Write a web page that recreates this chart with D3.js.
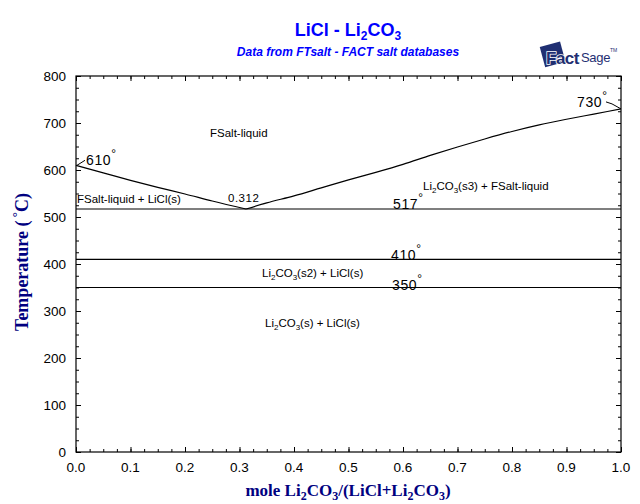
<!DOCTYPE html>
<html>
<head>
<meta charset="utf-8">
<script src="https://cdn.jsdelivr.net/npm/d3@7/dist/d3.min.js"></script>
<style>
  html, body { margin: 0; padding: 0; background: #fff; }
  svg { display: block; font-family: "Liberation Sans", Arial, sans-serif; }
</style>
</head>
<body>
<svg id="chart" width="640" height="504"></svg>
<script>
// ---- data ----
const leftBranchX = [0, 0.05, 0.1, 0.15, 0.2, 0.25, 0.312];
const leftBranchT = [610, 594, 578, 563, 549, 534, 517];
const rightBranchX = [0.312, 0.35, 0.4, 0.45, 0.5, 0.55, 0.6, 0.65, 0.7, 0.75, 0.8, 0.85, 0.9, 0.95, 1.0];
const rightBranchT = [517, 530, 545, 562, 579, 595, 612, 631, 649, 666, 682, 696, 708, 719, 730];
const isothermT = [517, 410, 350];
const xTicks = [0, 0.1, 0.2, 0.3, 0.4, 0.5, 0.6, 0.7, 0.8, 0.9, 1.0];
const yTicks = [0, 100, 200, 300, 400, 500, 600, 700, 800];
const eutecticX = 0.312;

const svg = d3.select("#chart");
const L = 76, R = 621, T = 76, B = 452;
const x = d3.scaleLinear().domain([0, 1]).range([L, R]);
const y = d3.scaleLinear().domain([0, 800]).range([B, T]);

const minorX = d3.range(0, 1.0001, 0.025).map(v => +v.toFixed(3));
const minorY = d3.range(0, 800.1, 25);
const serif = "'Liberation Serif', 'Times New Roman', serif";

// frame
svg.append("rect").attr("x", L).attr("y", T).attr("width", R - L).attr("height", B - T)
  .attr("fill", "none").attr("stroke", "#000").attr("stroke-width", 1.2);

function tickGroup(axisFn, scale, vals, size, tx, ty) {
  const g = svg.append("g").attr("transform", `translate(${tx},${ty})`)
    .call(axisFn(scale).tickValues(vals).tickSizeInner(size).tickSizeOuter(0).tickFormat(""));
  g.select(".domain").remove();
  g.selectAll("line").attr("stroke", "#000");
  return g;
}
// inward ticks on all four sides
tickGroup(d3.axisBottom, x, minorX, -3, 0, B);
tickGroup(d3.axisBottom, x, xTicks, -5, 0, B);
tickGroup(d3.axisTop, x, minorX, -3, 0, T);
tickGroup(d3.axisTop, x, xTicks, -5, 0, T);
tickGroup(d3.axisLeft, y, minorY, -3, L, 0);
tickGroup(d3.axisLeft, y, yTicks, -5, L, 0);
tickGroup(d3.axisRight, y, minorY, -3, R, 0);
tickGroup(d3.axisRight, y, yTicks, -5, R, 0);

// tick labels
svg.append("g").selectAll("text").data(xTicks).join("text")
  .attr("x", d => x(d)).attr("y", 472).attr("text-anchor", "middle")
  .attr("font-size", 13.5).attr("fill", "#000").text(d => d.toFixed(1));
svg.append("g").selectAll("text").data(yTicks).join("text")
  .attr("x", 66).attr("y", d => y(d) + 5).attr("text-anchor", "end")
  .attr("font-size", 13.5).attr("fill", "#000").text(d => d);

// isotherms
svg.append("g").selectAll("line").data(isothermT).join("line")
  .attr("x1", x(0)).attr("x2", x(1)).attr("y1", d => y(d)).attr("y2", d => y(d))
  .attr("stroke", "#000").attr("stroke-width", 1.2);

// liquidus (two branches meeting at the eutectic)
const lineGen = d3.line().x(d => x(d[0])).y(d => y(d[1])).curve(d3.curveMonotoneX);
[[leftBranchX, leftBranchT], [rightBranchX, rightBranchT]].forEach(([xs, ts]) => {
  svg.append("path").datum(xs.map((v, i) => [v, ts[i]]))
    .attr("d", lineGen).attr("fill", "none").attr("stroke", "#000").attr("stroke-width", 1.2);
});

// leader lines
svg.append("line").attr("x1", x(0) + 1).attr("y1", y(leftBranchT[0])).attr("x2", x(0) + 9).attr("y2", y(leftBranchT[0]) - 5)
  .attr("stroke", "#000");
const tEnd = rightBranchT[rightBranchT.length - 1];
svg.append("polyline")
  .attr("points", `${x(1) - 15},${y(tEnd) - 7} ${x(1) - 9},${y(tEnd) - 5} ${x(1)},${y(tEnd)}`)
  .attr("fill", "none").attr("stroke", "#000");

// degree labels
function degLabel(txt, px, py) {
  const t = svg.append("text").attr("x", px).attr("y", py).attr("font-size", 14)
    .attr("letter-spacing", 0.6).attr("fill", "#000");
  t.append("tspan").text(txt);
  t.append("tspan").attr("dy", -7).attr("font-size", 12).text("°");
}
degLabel("610", 86, 165);
degLabel("730", 577, 107);
degLabel("517", 393, 209);
degLabel("410", 391, 260);
degLabel("350", 392, 290);

// region labels
function plain(txt, px, py) {
  svg.append("text").attr("x", px).attr("y", py).attr("font-size", 11.5).attr("fill", "#000").text(txt);
}
plain("FSalt-liquid", 210, 137);
plain("FSalt-liquid + LiCl(s)", 77, 203);
svg.append("text").attr("x", 228).attr("y", 202).attr("font-size", 11.5).attr("letter-spacing", 0.5).text(eutecticX.toFixed(3));

function li2co3(px, py, rest) {
  const t = svg.append("text").attr("x", px).attr("y", py).attr("font-size", 11.5).attr("fill", "#000");
  t.append("tspan").text("Li");
  t.append("tspan").attr("font-size", 8).attr("dy", 3).text("2");
  t.append("tspan").attr("dy", -3).text("CO");
  t.append("tspan").attr("font-size", 8).attr("dy", 3).text("3");
  t.append("tspan").attr("dy", -3).text(rest);
}
li2co3(423, 190, "(s3) + FSalt-liquid");
li2co3(262, 277, "(s2) + LiCl(s)");
li2co3(265, 327, "(s) + LiCl(s)");

// title
const title = svg.append("text").attr("x", 348).attr("y", 36).attr("text-anchor", "middle")
  .attr("font-size", 18).attr("font-weight", "bold").attr("fill", "#0000ff");
title.append("tspan").text("LiCl - Li");
title.append("tspan").attr("font-size", 12).attr("dy", 4).text("2");
title.append("tspan").attr("dy", -4).text("CO");
title.append("tspan").attr("font-size", 12).attr("dy", 4).text("3");

svg.append("text").attr("x", 348).attr("y", 56).attr("text-anchor", "middle")
  .attr("font-size", 12).attr("font-weight", "bold").attr("font-style", "italic").attr("fill", "#0000ff")
  .text("Data from FTsalt - FACT salt databases");

// axis titles
const xl = svg.append("text").attr("x", 348).attr("y", 496).attr("text-anchor", "middle")
  .style("font-family", serif).attr("font-weight", "bold")
  .attr("font-size", 17).attr("fill", "#000080");
xl.append("tspan").text("mole Li");
xl.append("tspan").attr("font-size", 12).attr("dy", 4).text("2");
xl.append("tspan").attr("dy", -4).text("CO");
xl.append("tspan").attr("font-size", 12).attr("dy", 4).text("3");
xl.append("tspan").attr("dy", -4).text("/(LiCl+Li");
xl.append("tspan").attr("font-size", 12).attr("dy", 4).text("2");
xl.append("tspan").attr("dy", -4).text("CO");
xl.append("tspan").attr("font-size", 12).attr("dy", 4).text("3");
xl.append("tspan").attr("dy", -4).text(")");

const yl = svg.append("text").attr("transform", "translate(28,262) rotate(-90)").attr("text-anchor", "middle")
  .style("font-family", serif).attr("font-weight", "bold")
  .attr("font-size", 18).attr("fill", "#000080");
yl.append("tspan").text("Temperature (");
yl.append("tspan").attr("dy", -7).attr("font-size", 13).text(" °");
yl.append("tspan").attr("dy", 7).text("C)");

// FactSage logo
const logo = svg.append("g");
logo.append("rect").attr("x", -10).attr("y", -10).attr("width", 21).attr("height", 21)
  .attr("transform", "translate(552,54) rotate(-15)").attr("fill", "#1f2f72");
logo.append("text").attr("x", 546).attr("y", 64).attr("font-size", 17).attr("font-weight", "bold")
  .attr("fill", "#1f2f72").attr("stroke", "#fff").attr("stroke-width", 1.5)
  .style("paint-order", "stroke").attr("letter-spacing", -0.5).text("Fact");
logo.append("text").attr("x", 581).attr("y", 62).attr("font-size", 13).attr("fill", "#1f2f72")
  .attr("letter-spacing", -0.3).text("Sage");
logo.append("text").attr("x", 610).attr("y", 52).attr("font-size", 5).attr("fill", "#1f2f72").text("TM");
</script>
</body>
</html>
